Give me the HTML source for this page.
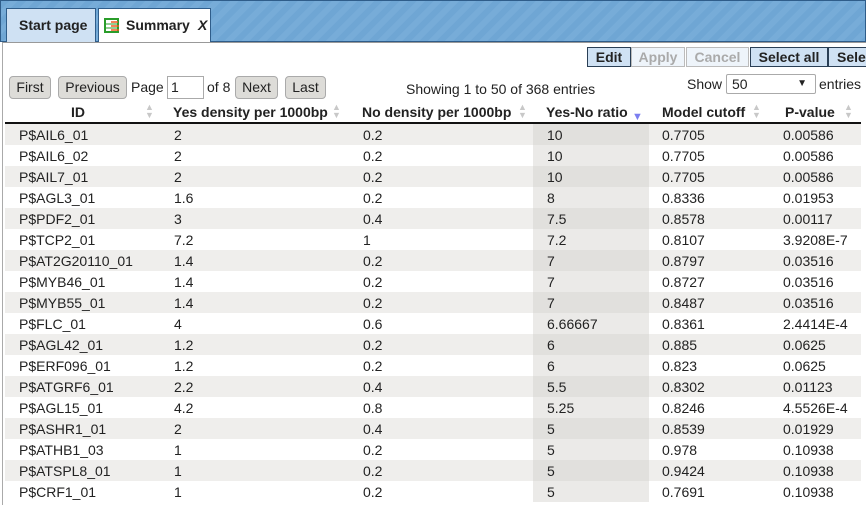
<!DOCTYPE html>
<html><head><meta charset="utf-8"><style>
*{box-sizing:border-box;margin:0;padding:0}
body{width:866px;height:505px;overflow:hidden;background:#fff;font-family:"Liberation Sans",Arial,sans-serif;font-size:14px;color:#222;position:relative}
#tabbar{position:absolute;left:0;top:0;width:866px;height:42px;background:repeating-linear-gradient(135deg,#6fa6d4 0 6px,#77acd8 6px 12px);border:1px solid #2f5d8a}
.tab{position:absolute;top:7px;height:35px;border:1px solid #2f5d8a;border-bottom:none;font-weight:bold;font-size:14px;line-height:32px;padding-left:12px;white-space:nowrap}
#frame{position:absolute;left:2px;top:42px;width:864px;height:463px;border-left:1px solid #aaa;border-top:1px solid #999}
.tb{position:absolute;top:47px;height:20px;border:1px solid #2a3f55;background:#cfe1f3;font-weight:bold;font-size:14px;line-height:18px;text-align:center;white-space:nowrap}
.tb.dis{color:#aaa;border-color:#bbb;background:#eef4fa}
.pb{position:absolute;top:76px;height:23px;border:1px solid #aaa;border-radius:4px;background:#dddcd8;line-height:21px;text-align:center;font-size:14px}
.t{position:absolute;white-space:nowrap}
.hd{position:absolute;top:104px;font-weight:bold;font-size:14px;white-space:nowrap}
.sa{position:absolute;top:103px;width:10px;height:18px;color:#c8c8c8;font-size:9px;line-height:8px}
.row{position:absolute;left:5px;width:856px;height:21px}
.c{position:absolute;top:3px;white-space:nowrap}
</style></head><body>
<div id="tabbar">
<div class="tab" style="left:5px;width:90px;background:#cfe1f3">Start page</div>
<div class="tab" style="left:97px;width:113px;background:#fff;height:35px;padding-left:27px">
<svg style="position:absolute;left:5px;top:9px" width="16" height="16"><rect x="1" y="1" width="13" height="13" fill="#fff" stroke="#2a9d2a" stroke-width="2"/><line x1="2" y1="6" x2="14" y2="6" stroke="#2a9d2a"/><line x1="2" y1="10" x2="14" y2="10" stroke="#2a9d2a"/><path d="M7 4h7M7 8h8M7 12h8" stroke="#f05a20" stroke-width="1.5"/></svg>
Summary<span style="position:absolute;left:99px;font-style:italic">X</span></div>
</div>
<div id="frame"></div>
<div class="tb" style="left:587px;width:44px">Edit</div>
<div class="tb dis" style="left:631px;width:54px">Apply</div>
<div class="tb dis" style="left:686px;width:63px">Cancel</div>
<div class="tb" style="left:750px;width:78px">Select all</div>
<div class="tb" style="left:828px;width:50px;text-align:left;padding-left:8px">Sele</div>
<div class="pb" style="left:9px;width:42px">First</div>
<div class="pb" style="left:58px;width:69px">Previous</div>
<div class="t" style="left:131px;top:79px">Page</div>
<div class="t" style="left:167px;top:76px;width:37px;height:23px;border:1px solid #aaa;padding-left:3px;line-height:21px">1</div>
<div class="t" style="left:207px;top:79px">of 8</div>
<div class="pb" style="left:235px;width:43px">Next</div>
<div class="pb" style="left:285px;width:41px">Last</div>
<div class="t" style="left:406px;top:81px">Showing 1 to 50 of 368 entries</div>
<div class="t" style="left:687px;top:76px">Show</div>
<div class="t" style="left:726px;top:74px;width:90px;height:20px;border:1px solid #aaa;border-radius:2px;padding-left:5px;line-height:18px">50<span style="position:absolute;right:8px;font-size:10px">▼</span></div>
<div class="t" style="left:819px;top:76px">entries</div>
<div style="position:absolute;left:5px;top:122px;width:856px;height:2px;background:#111"></div>
<div class="hd" style="left:71px">ID</div>
<div class="hd" style="left:173px">Yes density per 1000bp</div>
<div class="hd" style="left:362px">No density per 1000bp</div>
<div class="hd" style="left:546px">Yes-No ratio</div>
<div class="hd" style="left:662px">Model cutoff</div>
<div class="hd" style="left:785px">P-value</div>
<div class="sa" style="left:145px">▲<br>▼</div><div class="sa" style="left:332px">▲<br>▼</div><div class="sa" style="left:518px">▲<br>▼</div>
<div class="sa" style="left:752px">▲<br>▼</div><div class="sa" style="left:844px">▲<br>▼</div>
<div class="t" style="left:632px;top:111px;color:#7b7ef0;font-size:11px">▼</div>
<div id="rows"></div>
<script>
const ids=["P$AIL6_01","P$AIL6_02","P$AIL7_01","P$AGL3_01","P$PDF2_01","P$TCP2_01","P$AT2G20110_01","P$MYB46_01","P$MYB55_01","P$FLC_01","P$AGL42_01","P$ERF096_01","P$ATGRF6_01","P$AGL15_01","P$ASHR1_01","P$ATHB1_03","P$ATSPL8_01","P$CRF1_01"];
const yes=["2","2","2","1.6","3","7.2","1.4","1.4","1.4","4","1.2","1.2","2.2","4.2","2","1","1","1"];
const no=["0.2","0.2","0.2","0.2","0.4","1","0.2","0.2","0.2","0.6","0.2","0.2","0.4","0.8","0.4","0.2","0.2","0.2"];
const ratio=["10","10","10","8","7.5","7.2","7","7","7","6.66667","6","6","5.5","5.25","5","5","5","5"];
const cutoff=["0.7705","0.7705","0.7705","0.8336","0.8578","0.8107","0.8797","0.8727","0.8487","0.8361","0.885","0.823","0.8302","0.8246","0.8539","0.978","0.9424","0.7691"];
const pval=["0.00586","0.00586","0.00586","0.01953","0.00117","3.9208E-7","0.03516","0.03516","0.03516","2.4414E-4","0.0625","0.0625","0.01123","4.5526E-4","0.01929","0.10938","0.10938","0.10938"];
const xs=[14,169,358,542,657,778];
const wrap=document.getElementById('rows');
ids.forEach((id,i)=>{
 const r=document.createElement('div');
 r.className='row';
 
 
 r.style.top=(124+i*21)+'px';
 const odd=i%2===0;
 r.style.background=odd?'#efeeec':'#fff';
 const s=document.createElement('div');
 s.style.cssText='position:absolute;left:528px;top:0;width:116px;height:21px;background:'+(odd?'#e1e0dd':'#ebeae8');
 r.appendChild(s);
 [id,yes[i],no[i],ratio[i],cutoff[i],pval[i]].forEach((v,j)=>{
  const c=document.createElement('div');
  c.className='c';
  
  
  c.style.left=xs[j]+'px';
  c.textContent=v;
  r.appendChild(c);
 });
 wrap.appendChild(r);
});
</script>
</body></html>
